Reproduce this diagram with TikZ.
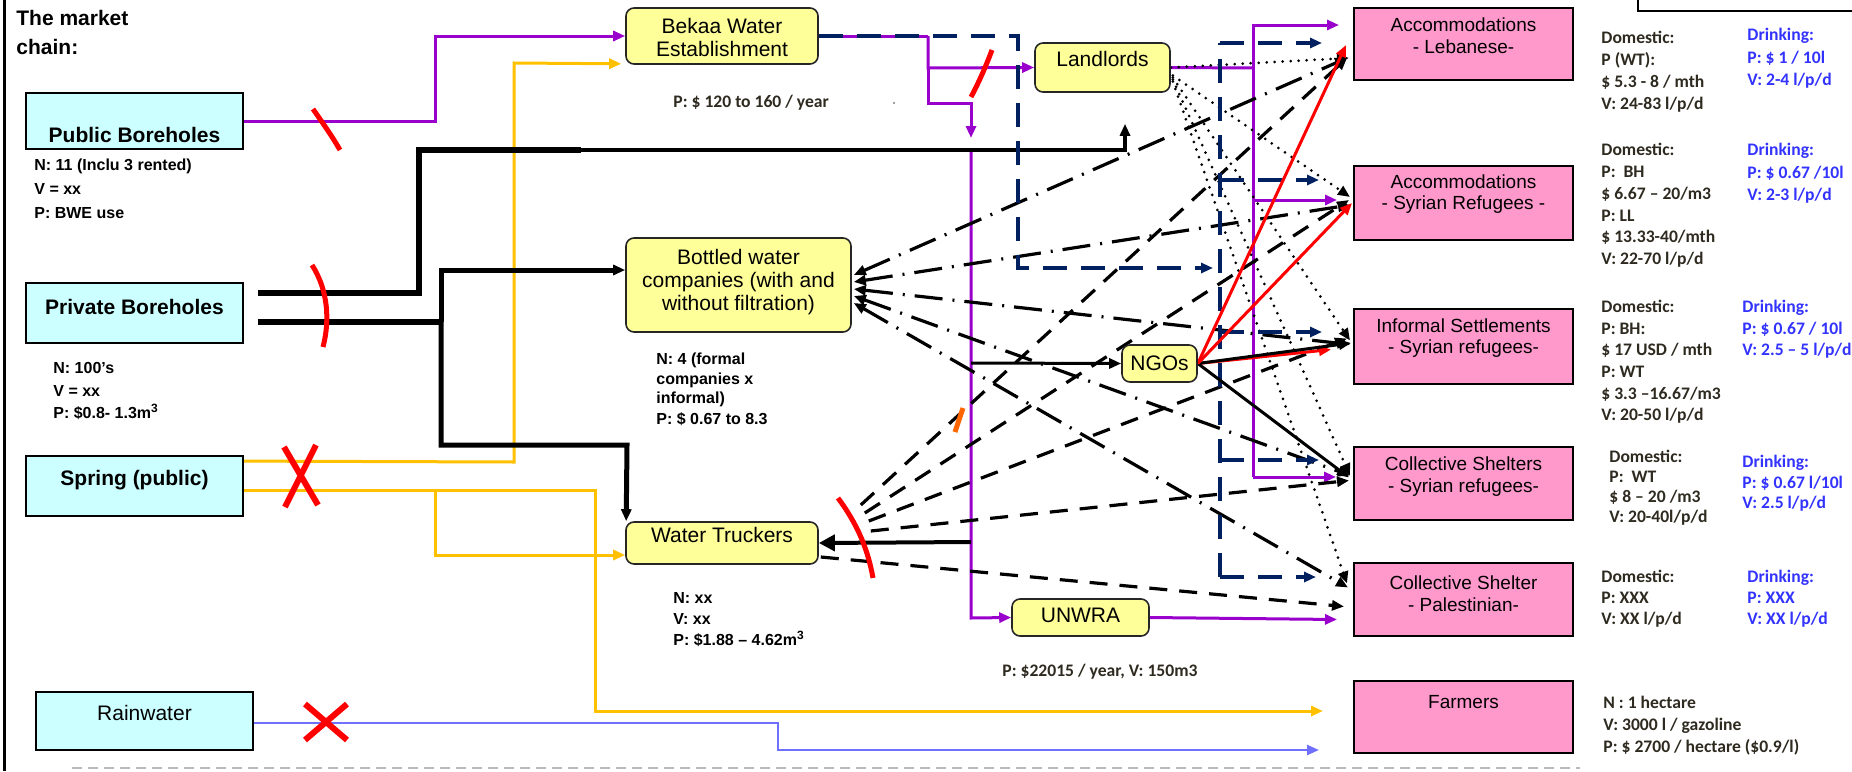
\documentclass[tikz,border=0pt]{standalone}
\usepackage{fontspec}
\setmainfont{Liberation Sans}
\newfontfamily\calibfont{Carlito}
\usetikzlibrary{arrows.meta,calc}
\definecolor{srcfill}{HTML}{CCFFFF}
\definecolor{yfill}{HTML}{FFFF99}
\definecolor{pfill}{HTML}{FF99CC}
\definecolor{purc}{HTML}{9900CC}
\definecolor{orgc}{HTML}{FFC000}
\definecolor{navc}{HTML}{002060}
\definecolor{bluc}{HTML}{7070FF}
\definecolor{redc}{HTML}{FF0000}
\definecolor{domc}{HTML}{2E2A20}
\definecolor{drkc}{HTML}{3333FF}
\pgfdeclarelayer{bg}
\pgfsetlayers{bg,main}
\begin{document}
\begin{tikzpicture}[x=0.5pt,y=-0.5pt,
  >={Triangle[length=6pt,width=5pt]},
  srcbox/.style={draw=black,line width=0.9pt,fill=srcfill,minimum width=108.5pt,inner sep=0pt},
  ybox/.style={draw=black!85,line width=0.8pt,fill=yfill,rounded corners=4pt,inner sep=0pt},
  pbox/.style={draw=black,line width=1pt,fill=pfill,minimum width=109.5pt,inner sep=0pt},
  lbl/.style={font=\fontsize{10.5}{11.5}\selectfont,align=center},
  lblb/.style={font=\bfseries\fontsize{10.5}{11.5}\selectfont,align=center},
  plbl/.style={font=\fontsize{9.5}{10.8}\selectfont,align=center},
  note/.style={font=\bfseries\fontsize{8}{#1}\selectfont,align=left,anchor=north west,inner sep=0pt},
  note/.default=12,
  dom/.style={font=\calibfont\bfseries\fontsize{8.8}{#1}\selectfont,align=left,anchor=north west,inner sep=0pt,text=domc},
  dom/.default=11,
  drk/.style={font=\calibfont\bfseries\fontsize{8.8}{#1}\selectfont,align=left,anchor=north west,inner sep=0pt,text=drkc},
  drk/.default=11,
  pur/.style={draw=purc,line width=1.5pt},
  org/.style={draw=orgc,line width=1.5pt},
  blu/.style={draw=bluc,line width=1.2pt},
  bk/.style={draw=black},
  nav/.style={draw=navc,line width=2pt,dash pattern=on 12pt off 7pt},
  dotl/.style={draw=black,line width=1.5pt,dash pattern=on 0pt off 4pt,line cap=round},
  ddot/.style={draw=black,line width=1.6pt,dash pattern=on 14pt off 5pt on 1pt off 5pt},
  dsh/.style={draw=black,line width=1.6pt,dash pattern=on 9pt off 6pt},
  rmark/.style={draw=redc,line width=2.5pt},
]
\useasboundingbox (0,0) rectangle (1852,771);

% frame pieces
\draw[line width=1.5pt] (4,0) -- (4,771);
\draw[line width=1pt] (1638,-5) -- (1638,11) -- (1860,11);
\draw[gray!55,line width=1pt,dash pattern=on 5pt off 3pt] (72,768) -- (1580,768);

% title
\node[font=\bfseries\fontsize{10.5}{14.5}\selectfont,align=left,anchor=north west,inner sep=0pt] (title) at (16,10) {The market\\chain:};

% source boxes
\node[srcbox,minimum height=28pt,label={[lblb,yshift=-7pt]center:Public Boreholes}] (PB) at (134.5,121) {};
\node[srcbox,minimum height=30pt,label={[lblb,yshift=3pt]center:Private Boreholes}] (PrB) at (134.5,313) {};
\node[srcbox,minimum height=30pt,label={[lblb,yshift=3pt]center:Spring (public)}] (SP) at (134.5,486) {};
\node[srcbox,minimum height=29pt,label={[lbl,yshift=4pt]center:Rainwater}] (RW) at (144.5,721) {};

% intermediaries
\node[ybox,minimum width=96pt,minimum height=28pt,label={[lbl,yshift=-0.5pt]center:{Bekaa Water\\Establishment}}] (BWE) at (722,36) {};
\node[ybox,minimum width=67.5pt,minimum height=24.5pt,label={[lbl,yshift=4.5pt]center:Landlords}] (LL) at (1102.5,67.5) {};
\node[ybox,minimum width=112.5pt,minimum height=47pt,label={[lbl,yshift=1.5pt]center:{Bottled water\\companies (with and\\without filtration)}}] (BT) at (738.5,285) {};
\node[ybox,minimum width=37.5pt,minimum height=18.5pt,label={[lbl]center:NGOs}] (NGO) at (1159.5,363.5) {};
\node[ybox,minimum width=96pt,minimum height=21pt,label={[lbl,yshift=4pt]center:Water Truckers}] (WT) at (722,543) {};
\node[ybox,minimum width=68.5pt,minimum height=18.5pt,label={[lbl,yshift=1pt]center:UNWRA}] (UN) at (1080.5,617.5) {};

% consumers
\node[pbox,minimum height=36pt,label={[plbl,yshift=4pt]center:{Accommodations\\- Lebanese-}}] (AL) at (1463.5,44) {};
\node[pbox,minimum height=37pt,label={[plbl,yshift=4.5pt]center:{Accommodations\\- Syrian Refugees -}}] (AS) at (1463.5,203) {};
\node[pbox,minimum height=37.5pt,label={[plbl,yshift=4.25pt]center:{Informal Settlements\\- Syrian refugees-}}] (IS) at (1463.5,346.5) {};
\node[pbox,minimum height=36.5pt,label={[plbl,yshift=3.5pt]center:{Collective Shelters\\- Syrian refugees-}}] (CSS) at (1463.5,483.5) {};
\node[pbox,minimum height=36.5pt,label={[plbl,yshift=3pt]center:{Collective Shelter\\- Palestinian-}}] (CSP) at (1463.5,599.5) {};
\node[pbox,minimum height=36pt,label={[plbl,yshift=7.5pt]center:Farmers}] (FA) at (1463.5,717) {};

% notes left
\node[note=12] (nPB) at (34,159) {N: 11 (Inclu 3 rented)\\V = xx\\P: BWE use};
\node[note=11.25] (nPrB) at (53,362) {N: 100's\\V = xx\\P: \$0.8- 1.3m\textsuperscript{3}};
\node[note=10] (nBT) at (656,352) {N: 4 (formal\\companies x\\informal)\\P: \$ 0.67 to 8.3};
\node[note=10.5] (nWT) at (673,592) {N: xx\\V: xx\\P: \$1.88 – 4.62m\textsuperscript{3}};
\node[font=\calibfont\bfseries\fontsize{8.8}{11}\selectfont,anchor=west,inner sep=0pt,text=domc] (nBWE) at (673,103) {P: \$ 120 to 160 / year};
\fill[gray] (894,103) circle (0.6pt);
\node[font=\calibfont\bfseries\fontsize{8.8}{11}\selectfont,anchor=west,inner sep=0pt,text=domc] (nUN) at (1002,672) {P: \$22015 / year, V: 150m3};

% notes right
\node[dom=11] (dAL) at (1601,31) {Domestic:\\P (WT):\\\$ 5.3 - 8 / mth\\V: 24-83 l/p/d};
\node[drk=11.2] (kAL) at (1747,28) {Drinking:\\P: \$ 1 / 10l\\V: 2-4 l/p/d};
\node[dom=10.9] (dAS) at (1601,143) {Domestic:\\P:\ \ BH\\\$ 6.67 – 20/m3\\P: LL\\\$ 13.33-40/mth\\V: 22-70 l/p/d};
\node[drk=11.2] (kAS) at (1747,143) {Drinking:\\P: \$ 0.67 /10l\\V: 2-3 l/p/d};
\node[dom=10.8] (dIS) at (1601,300) {Domestic:\\P: BH:\\\$ 17 USD / mth\\P: WT\\\$ 3.3 –16.67/m3\\V: 20-50 l/p/d};
\node[drk=10.8] (kIS) at (1742,300) {Drinking:\\P: \$ 0.67 / 10l\\V: 2.5 – 5 l/p/d};
\node[dom=10] (dCSS) at (1609,450) {Domestic:\\P:\ \ WT\\\$ 8 – 20 /m3\\V: 20-40l/p/d};
\node[drk=10.3] (kCSS) at (1742,455) {Drinking:\\P: \$ 0.67 l/10l\\V: 2.5 l/p/d};
\node[dom=10.5] (dCSP) at (1601,570) {Domestic:\\P: XXX\\V: XX l/p/d};
\node[drk=10.5] (kCSP) at (1747,570) {Drinking:\\P: XXX\\V: XX l/p/d};
\node[dom=11] (dFA) at (1603,696) {N : 1 hectare\\V: 3000 l / gazoline\\P: \$ 2700 / hectare (\$0.9/l)};

\begin{pgfonlayer}{bg}
% purple
\draw[pur,->] (PB.east) -- (435,121) -- (435,36) -- (BWE.west);
\draw[pur] (BWE.east) -- (928,36);
\draw[pur,->] (928,36) -- (928,68) -- (LL.west);
\draw[pur,->] (928,68) -- (928,103) -- (971,103) -- (971,138);
\draw[pur,->] (971,150) -- (971,618) -- (UN.west);
\draw[pur] (LL.east) -- (1253,68);
\draw[pur,->] (1253,477) -- (1253,25) -- ($(AL.west)+(-14,-19)$);
\draw[pur,->] (1253,200) -- ($(AS.west)+(-16,-3)$);
\draw[pur,->] (1253,477) -- ($(CSS.west)+(-17,-6.5)$);
\draw[pur,->] (UN.east) -- ($(CSP.west)+(-16,20)$);
% orange
\draw[org,->] ($(SP.north east)+(0,6)$) -- (514,462) -- (514,63) -- ($(BWE.south west)+(-4,-1)$);
\draw[org,->] ($(SP.east)+(0,4)$) -- (595,490) -- (595,711) -- ($(FA.west)+(-30,-6)$);
\draw[org,->] (435,490) -- (435,555) -- ($(WT.west)+(0,12)$);
% blue
\draw[blu,->] ($(RW.east)+(0,2)$) -- (778,723) -- (778,750) -- ($(FA.west)+(-34,33)$);
% black solid
\draw[bk,line width=3pt] ($(PrB.east)+(14,-20)$) -- (419,293) -- (419,150) -- (581,150);
\draw[bk,line width=2pt,->] (581,150) -- (1125,150) -- ($(LL.south)+(22.5,31)$);
\draw[bk,line width=3pt] ($(PrB.east)+(14,9)$) -- (441,322);
\draw[bk,line width=2.5pt,->] (441,322) -- (441,270) -- ($(BT.west)+(0,-15)$);
\draw[bk,line width=2.5pt,->] (441,322) -- (441,445) -- (627,445) -- ($(WT.north west)+(1,0)$);
\draw[bk,line width=1.5pt,->] (971,363) -- (NGO.west);
\draw[bk,line width=2pt,-{Triangle[length=8pt,width=8pt]}] (971,542) -- (WT.east);
% dotted from landlords
\draw[dotl,->] (LL.east) -- ($(AL.west)+(-4,14)$);
\draw[dotl,->] ($(LL.east)+(2,8)$) -- ($(AS.west)+(-3,-6)$);
\draw[dotl,->] ($(LL.east)+(2,10)$) -- ($(IS.west)+(-3,-6)$);
\draw[dotl,->] ($(LL.east)+(2,12)$) -- ($(CSS.west)+(-3,-8)$);
\draw[dotl,->] ($(LL.east)+(2,14)$) -- ($(CSP.west)+(-6,-16)$);
% dash-dot from bottled water
\draw[ddot,<->] ($(BT.east)+(2,-10)$) -- ($(AL.west)+(-6,14)$);
\draw[ddot,<->] ($(BT.east)+(2,-3)$) -- ($(AS.west)+(-3,2)$);
\draw[ddot,<->] ($(BT.east)+(2,4)$) -- ($(IS.west)+(-3,-2)$);
\draw[ddot,<->] ($(BT.east)+(2,11)$) -- ($(CSS.west)+(-3,-8)$);
\draw[ddot,<->] ($(BT.east)+(2,18)$) -- ($(CSP.west)+(-5,-12)$);
% dashed from water truckers
\draw[dsh,->] ($(WT.east)+(42,-38)$) -- ($(AL.west)+(-6,14)$);
\draw[dsh,->] ($(WT.east)+(46,-30)$) -- ($(AS.west)+(-4,-3)$);
\draw[dsh,->] ($(WT.east)+(50,-22)$) -- ($(IS.west)+(-6,-8)$);
\draw[dsh,->] ($(WT.east)+(52,-12)$) -- ($(CSS.west)+(-4,-3)$);
\draw[dsh,->] ($(WT.east)+(2,14)$) -- ($(CSP.west)+(-9,7)$);
% navy dashed
\draw[nav,->] (BWE.east) -- (1018,36) -- (1018,268) -- (1213,268);
\draw[nav] (1220,577) -- (1220,43);
\draw[nav,->] (1220,43) -- ($(AL.west)+(-31,-1)$);
\draw[nav,->] (1220,180) -- ($(AS.west)+(-34,-23)$);
\draw[nav,->] (1220,332) -- ($(IS.west)+(-31,-14.5)$);
\draw[nav,->] (1220,460) -- ($(CSS.west)+(-34,-23.5)$);
\draw[nav,->] (1220,577) -- ($(CSP.west)+(-37,-22.5)$);
% NGOs
\draw[draw=redc,line width=1.5pt,->] (NGO.east) -- ($(IS.west)+(-22,3)$);
\draw[bk,line width=1.5pt,->] (NGO.east) -- ($(IS.west)+(-2,-3.5)$);
\draw[bk,line width=1.5pt,->] (NGO.east) -- ($(CSS.west)+(-4,-6)$);
\draw[draw=redc,line width=1.5pt,->] (NGO.east) -- ($(AL.west)+(-7,1)$);
\draw[draw=redc,line width=1.5pt,->] (NGO.east) -- ($(AS.west)+(-1,0)$);
% red marks
\draw[rmark] (313,109) .. controls (322,122) and (332,136) .. (340,150);
\draw[rmark] (312,265) .. controls (328,290) and (330,320) .. (323,347);
\draw[rmark,line width=3pt] (284,447) -- (318,505);
\draw[rmark,line width=3pt] (316,445) -- (285,507);
\draw[rmark,line width=3pt] (305,704) -- (347,740);
\draw[rmark,line width=3pt] (347,704) -- (305,740);
\draw[rmark] (992,50) .. controls (986,66) and (979,82) .. (971,97);
\draw[rmark] (838,498) .. controls (858,525) and (868,550) .. (873,578);
\draw[draw=orange!80!red,line width=2.5pt] (963,408) -- (955,432);
\end{pgfonlayer}
\end{tikzpicture}
\end{document}
